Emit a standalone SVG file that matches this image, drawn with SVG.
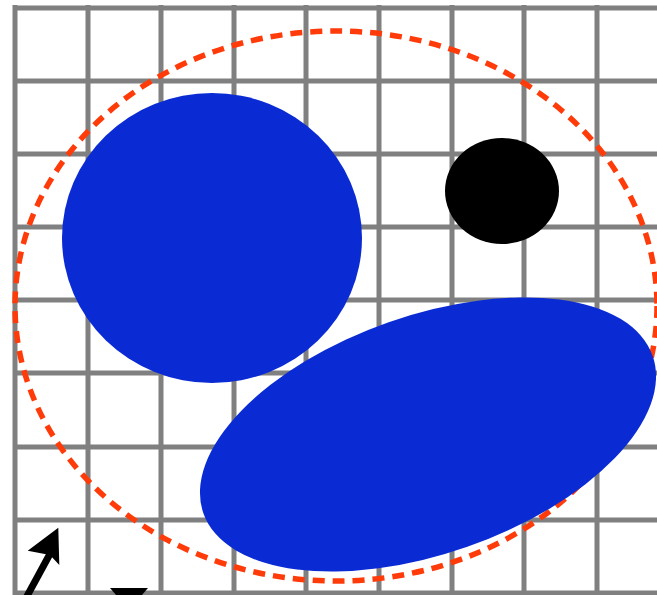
<svg xmlns="http://www.w3.org/2000/svg" width="657" height="595" viewBox="0 0 657 595">
<style>
.grid line{stroke:#808080;stroke-width:5}
.blue{fill:#0a2bd4}
</style>
<rect width="657" height="595" fill="#ffffff"/>
<g id="grid" class="grid">
<line x1="15" y1="5" x2="15" y2="595"/>
<line x1="88" y1="5" x2="88" y2="595"/>
<line x1="161" y1="5" x2="161" y2="595"/>
<line x1="234" y1="5" x2="234" y2="595"/>
<line x1="306" y1="5" x2="306" y2="595"/>
<line x1="379" y1="5" x2="379" y2="595"/>
<line x1="452" y1="5" x2="452" y2="595"/>
<line x1="524" y1="5" x2="524" y2="595"/>
<line x1="597" y1="5" x2="597" y2="595"/>
<line x1="13" y1="8" x2="657" y2="8"/>
<line x1="13" y1="81" x2="657" y2="81"/>
<line x1="13" y1="154" x2="657" y2="154"/>
<line x1="13" y1="227" x2="657" y2="227"/>
<line x1="13" y1="300" x2="657" y2="300"/>
<line x1="13" y1="373" x2="657" y2="373"/>
<line x1="13" y1="447" x2="657" y2="447"/>
<line x1="13" y1="520" x2="657" y2="520"/>
<line x1="13" y1="593" x2="657" y2="593"/>
</g>
<g id="boundary">
<ellipse cx="336" cy="306" rx="321" ry="275" fill="none" stroke="#ff3b0a" stroke-width="5.5" stroke-dasharray="12 8"/>
</g>
<g id="circle-large">
<ellipse class="blue" cx="212" cy="238" rx="150" ry="145"/>
</g>
<g id="circle-black">
<ellipse cx="502" cy="191" rx="57" ry="53" fill="#000000"/>
</g>
<g id="ellipse-tilted">
<ellipse class="blue" cx="428" cy="434.5" rx="238" ry="119" transform="rotate(-19.3 428 434.5)"/>
</g>
<g id="connectors">
<line x1="26" y1="598" x2="51" y2="552" stroke="#000000" stroke-width="7"/>
<polygon points="58.3,527.7 27.7,550.7 50,555 59.3,565" fill="#000000"/>
<polygon points="110,588 148,588 129,610" fill="#000000"/>
</g>
</svg>
